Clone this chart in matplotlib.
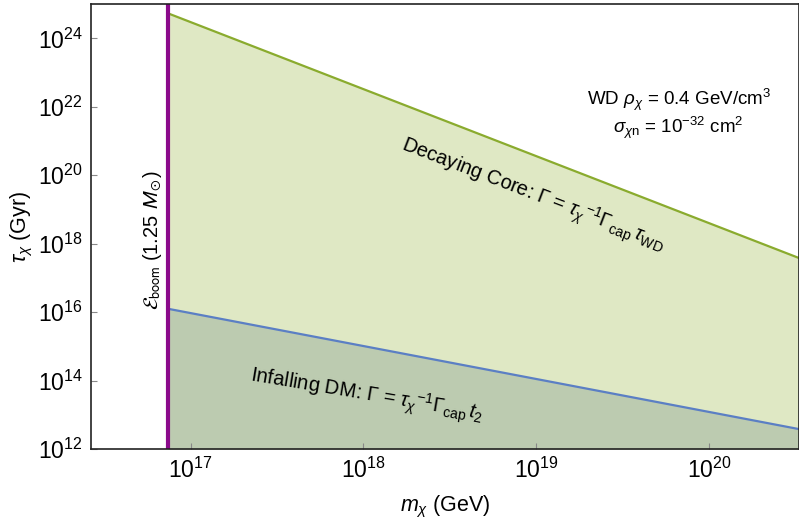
import numpy as np
import matplotlib.pyplot as plt

plt.rcParams['font.family'] = ['Liberation Sans', 'DejaVu Sans']
plt.rcParams['mathtext.fontset'] = 'custom'
plt.rcParams['mathtext.rm'] = 'Liberation Sans'
plt.rcParams['mathtext.it'] = 'Liberation Sans:italic'

# data
m_boom = 7.4e16                     # E_boom (1.25 Msun) threshold mass, GeV
m_edges = [7.4e16, 3.3e20]          # mass range of the bands, GeV
tau_core = [5.4e24, 3.8e17]         # decaying core bound, Gyr
tau_infall = [1.25e16, 3.8e12]      # infalling DM bound, Gyr
xlim = (2.66e16, 3.3e20)
ylim = (1e12, 1e25)

fig = plt.figure(figsize=(7.99, 5.19), dpi=100)
ax = fig.add_axes([0.114, 0.135, 0.886, 0.857])
ax.set_xscale('log')
ax.set_yscale('log')

# straight lines in log-log between endpoints
lm = np.linspace(np.log10(m_edges[0]), np.log10(m_edges[1]), 50)
m = 10 ** lm
core = 10 ** np.interp(lm, np.log10(m_edges), np.log10(tau_core))
infall = 10 ** np.interp(lm, np.log10(m_edges), np.log10(tau_infall))

ax.fill_between(m, ylim[0], core, color='#dfe8c4', lw=0)
ax.fill_between(m, ylim[0], infall, color='#bccbb0', lw=0)
ax.plot(m, core, color='#8aab2e', lw=1.6)
ax.plot(m, infall, color='#5b7fc4', lw=1.6)
ax.axvline(m_boom, color='#8b0a8b', lw=3)

ax.set_xlim(*xlim)
ax.set_ylim(*ylim)
ax.set_xticks([1e17, 1e18, 1e19, 1e20])
ax.set_yticks([1e12, 1e14, 1e16, 1e18, 1e20, 1e22, 1e24])
ax.minorticks_off()
ax.tick_params(direction='in', length=4, color='#888888', labelsize=16.5, pad=6)
for s in ax.spines.values():
    s.set_linewidth(1.2)
    s.set_color('#222222')

ax.set_xlabel(r'$m_\chi$ (GeV)', fontsize=15.5, labelpad=8)
ax.set_ylabel(r'$\tau_\chi$ (Gyr)', fontsize=15.5, labelpad=2)

ax.text(0.83, 0.784, r'WD $\rho_\chi$ = 0.4 GeV/cm$^3$', transform=ax.transAxes,
        ha='center', va='center', fontsize=13.5)
ax.text(0.83, 0.721, r'$\sigma_{\chi\mathrm{n}}$ = 10$^{-32}$ cm$^2$', transform=ax.transAxes,
        ha='center', va='center', fontsize=13.5)

ax.text(9.5e18, 2.6e19, r'Decaying Core: $\Gamma$ = $\tau_\chi$$^{-1}$$\Gamma_\mathrm{cap}\,\tau_\mathrm{WD}$',
        rotation=-21, ha='center', va='center', fontsize=14.5)
ax.text(1.05e18, 3.6e13, r'Infalling DM: $\Gamma$ = $\tau_\chi$$^{-1}$$\Gamma_\mathrm{cap}\,t_2$',
        rotation=-9.5, ha='center', va='center', fontsize=14.5)
# script E needs the stix calligraphic alphabet
ax.text(6.0e16, 1.3e18, r'$\mathcal{E}_\mathrm{boom}$ (1.25 $M_\odot$)', rotation=90,
        ha='center', va='center', fontsize=14.5, math_fontfamily='stixsans')

fig.savefig('out.png', dpi=100)
